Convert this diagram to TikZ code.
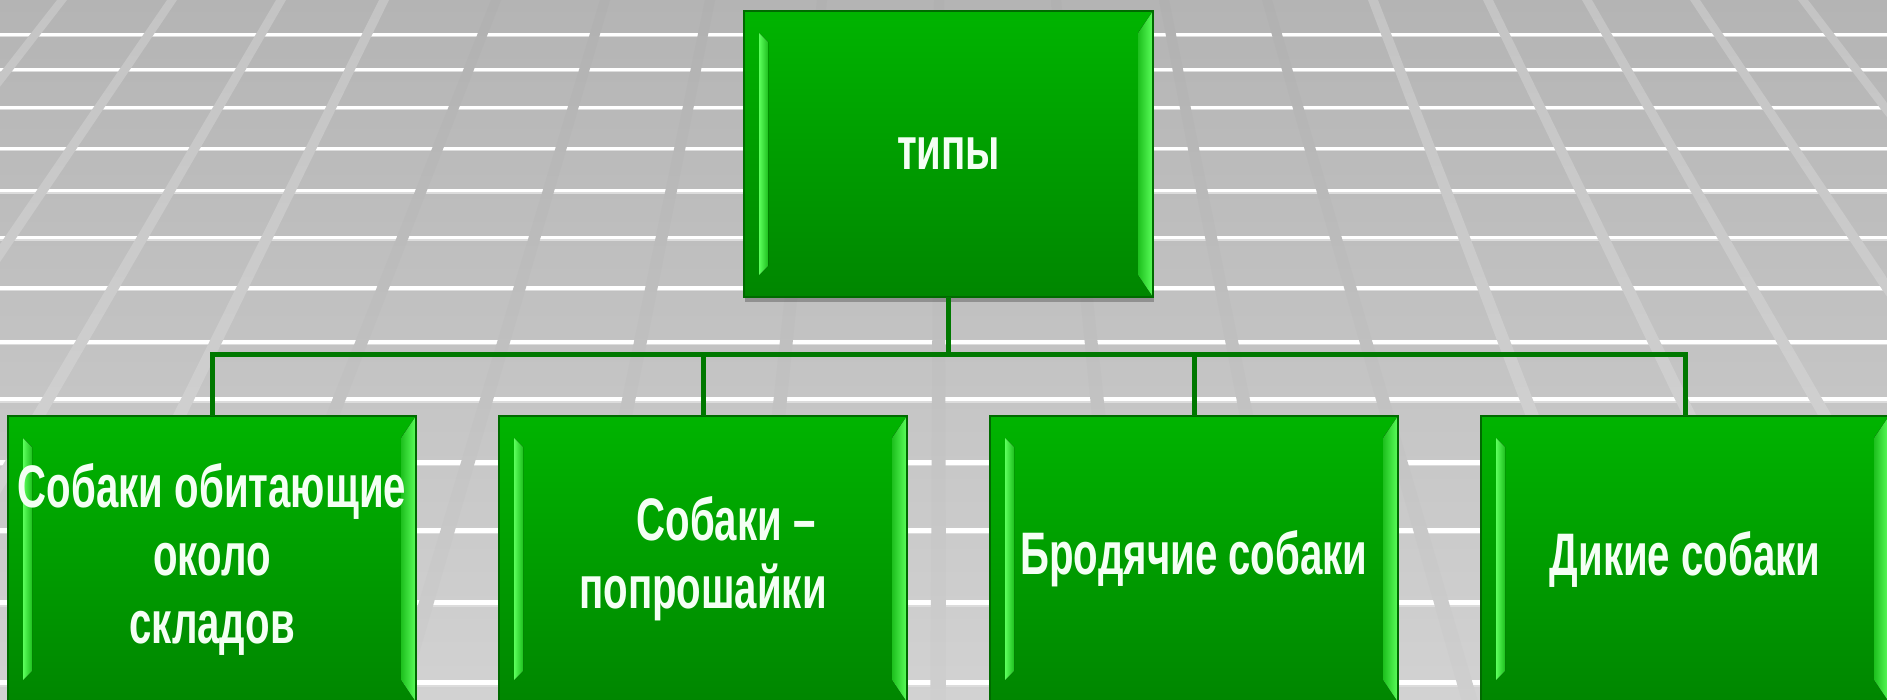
\documentclass[tikz,border=0pt]{standalone}
\usepackage{fontspec}
\newfontfamily\boxfont{Liberation Sans Bold}[FakeStretch=0.67]
\usetikzlibrary{calc,shadows}
\definecolor{gtop}{HTML}{00B400}
\definecolor{gbot}{HTML}{008600}
\definecolor{gedge}{HTML}{006A00}
\definecolor{glite}{HTML}{5CFF5C}
\definecolor{gmid}{HTML}{1EC01E}
\definecolor{conncol}{HTML}{007800}
\definecolor{bgtop}{HTML}{B4B4B4}
\definecolor{bgbot}{HTML}{D2D2D2}
\definecolor{bandltop}{HTML}{C4C4C4}
\definecolor{bandlbot}{HTML}{D7D7D7}
\definecolor{banddtop}{HTML}{B1B1B1}
\definecolor{banddbot}{HTML}{CFCFCF}
\definecolor{lineshade}{HTML}{DCDCDC}
\definecolor{textcol}{HTML}{F4FFF4}
\begin{document}
\begin{tikzpicture}[x=1pt,y=-1pt,
  gbox/.style={rectangle, draw=gedge, line width=1.2pt,
    top color=gtop, bottom color=gbot,
    minimum width=408pt, minimum height=286pt, inner sep=0pt, outer sep=0pt,
    text=textcol, font=\boxfont\fontsize{60}{68}\selectfont, align=center,
    path picture={
      \coordinate (pnw) at (path picture bounding box.north west);
      \coordinate (pne) at (path picture bounding box.north east);
      \coordinate (psw) at (path picture bounding box.south west);
      \coordinate (pse) at (path picture bounding box.south east);
      \fill[left color=glite, right color=gmid]
        ($(pnw)+(15pt,-22pt)$) -- ($(psw)+(15pt,22pt)$) --
        ($(psw)+(24pt,31pt)$) -- ($(pnw)+(24pt,-31pt)$) -- cycle;
      \fill[left color=gmid, right color=glite]
        (pne) -- ($(pne)+(-15pt,-22pt)$) -- ($(pse)+(-15pt,22pt)$) -- (pse) -- cycle;
    }},
  conn/.style={draw=conncol, line width=5pt, line join=miter}
]
\useasboundingbox (0,0) rectangle (1887,700);
\clip (0,0) rectangle (1887,700);
% background
\shade[top color=bgtop, bottom color=bgbot] (0,0) rectangle (1887,700);
\foreach \yy/\th in {33/3,68/3,106/3,147/3,189/3.5,236/3.5,286/4,340/4,397/4,460/4.5,528/4.5,600/5,680/5}{
  \fill[white] (0,\yy) rectangle (1887,\yy+\th);
  \fill[lineshade] (0,\yy+\th) rectangle (1887,\yy+\th+1.5);
}
\foreach \bx in {62,172,281,384,1373,1488,1587,1695,1803,1910}{
  \pgfmathsetmacro\bxb{\bx+(\bx-940)*0.6195}
  \shade[top color=bandltop, bottom color=bandlbot]
    (\bx-5,0) -- (\bx+5,0) -- (\bxb+8,700) -- (\bxb-8,700) -- cycle;
}
\foreach \bx in {496,605,710,822,939,1056,1164,1267}{
  \pgfmathsetmacro\bxb{\bx+(\bx-940)*0.6195}
  \shade[top color=banddtop, bottom color=banddbot]
    (\bx-5,0) -- (\bx+5,0) -- (\bxb+8,700) -- (\bxb-8,700) -- cycle;
}
% boxes
\node[gbox, minimum width=409pt,
  drop shadow={shadow xshift=0.5pt, shadow yshift=-5pt, fill=black, opacity=0.25}]
  (top) at (948.5,154) {типы};
\node[gbox] (b1) at (212,559) {Собаки обитающие\\около\\складов};
\node[gbox] (b2) at (703,559) {\hspace*{46pt}Собаки –\\попрошайки};
\node[gbox] (b3) at (1194,559) {Бродячие собаки};
\node[gbox] (b4) at (1685,559) {Дикие собаки};
% connectors
\coordinate (hub) at (948.5,355);
\draw[conn] (top.south) -- (hub);
\foreach \b in {b1,b2,b3,b4}{
  \draw[conn] (hub) -| (\b.north);
}
\end{tikzpicture}
\end{document}
